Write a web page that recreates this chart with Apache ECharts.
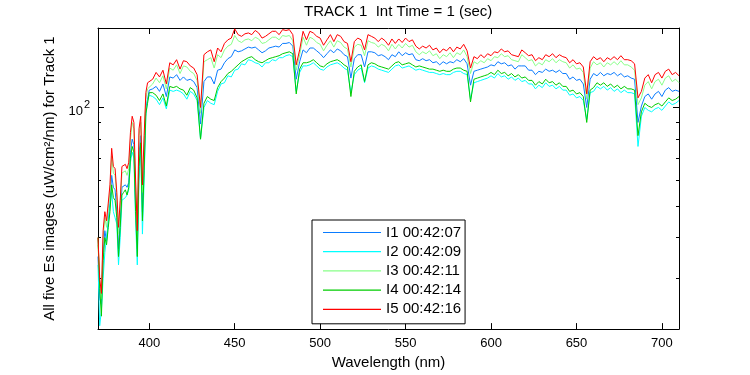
<!DOCTYPE html>
<html>
<head>
<meta charset="utf-8">
<script src="https://cdn.jsdelivr.net/npm/echarts@6/dist/echarts.min.js"></script>
<style>
  html, body { margin: 0; padding: 0; background: #fff; }
  #chart { width: 750px; height: 375px; }
</style>
</head>
<body>
<div id="chart"></div>
<script>
/* ===== data ===== */

const wavelengths = [
    370, 371, 372, 373, 374, 375, 376, 377, 378, 379,
    380, 381, 382, 383, 384, 385, 386, 387, 388, 389,
    390, 391, 392, 393, 394, 395, 396, 397, 398, 399,
    400, 402, 404, 406, 408, 410, 412, 414, 416, 418,
    420, 422, 424, 426, 428, 430, 432, 434, 436, 438,
    440, 442, 444, 446, 448, 450, 452, 454, 456, 458,
    460, 462, 464, 466, 468, 470, 472, 474, 476, 478,
    480, 482, 484, 486, 488, 490, 492, 494, 496, 498,
    500, 502, 504, 506, 508, 510, 512, 514, 516, 518,
    520, 522, 524, 526, 528, 530, 532, 534, 536, 538,
    540, 542, 544, 546, 548, 550, 552, 554, 556, 558,
    560, 562, 564, 566, 568, 570, 572, 574, 576, 578,
    580, 582, 584, 586, 588, 590, 592, 594, 596, 598,
    600, 602, 604, 606, 608, 610, 612, 614, 616, 618,
    620, 622, 624, 626, 628, 630, 632, 634, 636, 638,
    640, 642, 644, 646, 648, 650, 652, 654, 656, 658,
    660, 662, 664, 666, 668, 670, 672, 674, 676, 678,
    680, 682, 684, 686, 688, 690, 692, 694, 696, 698,
    700, 702, 704, 706, 708, 710
];

// I1 (blue)
const i1 = [
    35, 26, 25, 36, 42, 39, 45, 51, 62, 57,
    56, 48, 37, 45, 57, 57, 58, 57, 59, 73,
    80, 77, 51, 37, 72, 82, 48, 70, 100, 106,
    113, 114, 116, 112, 118, 108, 124, 123, 126, 121,
    124, 121, 122, 120, 115, 89, 120, 124, 124, 118,
    130, 131, 137, 141, 143, 150, 148, 149, 151, 153,
    152, 153, 150, 147, 149, 152, 153, 154, 153, 157,
    157, 158, 154, 122, 138, 150, 147, 152, 152, 149,
    146, 142, 146, 150, 147, 151, 149, 145, 143, 123,
    141, 145, 145, 133, 148, 148, 147, 144, 145, 143,
    140, 145, 143, 148, 144, 147, 145, 146, 140, 139,
    141, 139, 140, 137, 138, 135, 138, 136, 138, 137,
    140, 138, 141, 136, 117, 129, 130, 131, 132, 133,
    135, 134, 138, 136, 137, 134, 135, 131, 134, 134,
    134, 130, 130, 126, 129, 128, 131, 129, 130, 128,
    130, 127, 127, 122, 124, 121, 122, 118, 100, 122,
    127, 125, 128, 125, 127, 126, 128, 125, 127, 124,
    125, 123, 122, 90, 101, 108, 110, 106, 110, 112,
    108, 113, 115, 112, 113, 112
];

// I2 (cyan)
const i2 = [
    33, 21.5, 24, 30, 36, 40, 44, 50, 55, 48,
    46, 44, 33, 40, 52, 52, 53, 54, 56, 68,
    73, 70, 45, 33, 60, 77, 41, 60, 94, 105,
    109, 108, 106, 102, 107, 99, 113, 112, 113, 112,
    110, 106, 112, 110, 105, 80, 100, 105, 103, 102,
    112, 118, 119, 125, 124, 130, 131, 136, 135, 140,
    139, 137, 136, 133, 137, 137, 140, 139, 142, 142,
    144, 145, 143, 112, 128, 134, 134, 135, 137, 134,
    131, 130, 133, 135, 136, 137, 135, 132, 130, 111,
    126, 130, 132, 119, 132, 134, 133, 131, 130, 129,
    128, 131, 134, 135, 132, 133, 134, 132, 130, 131,
    130, 129, 128, 128, 127, 126, 127, 126, 126, 128,
    129, 129, 127, 126, 106, 119, 120, 121, 122, 123,
    125, 123, 127, 124, 125, 122, 124, 121, 123, 120,
    121, 118, 118, 114, 117, 115, 119, 116, 117, 114,
    116, 113, 113, 109, 110, 107, 108, 105, 92, 111,
    112, 116, 114, 116, 113, 115, 112, 114, 111, 113,
    111, 111, 110, 76, 94, 100, 98, 97, 99, 100,
    98, 101, 104, 102, 103, 105
];

// I3 (light green)
const i3 = [
    38, 29, 26, 40, 46, 43, 49, 55, 71, 63,
    62, 53, 41, 50, 63, 63, 64, 62, 65, 80,
    90, 86, 57, 40, 82, 90, 55, 78, 106, 114,
    115, 118, 123, 119, 125, 114, 132, 130, 135, 127,
    134, 133, 129, 127, 121, 96, 138, 140, 142, 132,
    145, 142, 150, 154, 156, 166, 160, 158, 161, 162,
    160, 164, 162, 157, 158, 161, 164, 164, 161, 166,
    165, 166, 160, 130, 145, 164, 155, 164, 162, 158,
    156, 149, 155, 160, 153, 160, 158, 153, 151, 133,
    153, 156, 155, 144, 160, 158, 157, 153, 156, 154,
    149, 156, 151, 156, 152, 157, 153, 155, 148, 145,
    148, 146, 149, 144, 146, 141, 145, 143, 147, 142,
    147, 145, 150, 143, 127, 138, 136, 139, 137, 141,
    139, 143, 142, 146, 143, 144, 140, 139, 138, 145,
    142, 139, 140, 134, 137, 135, 140, 138, 141, 137,
    140, 138, 137, 132, 135, 131, 132, 128, 106, 132,
    138, 135, 137, 133, 137, 135, 138, 135, 139, 135,
    135, 133, 130, 102, 107, 117, 120, 114, 120, 122,
    117, 123, 125, 120, 122, 119
];

// I4 (green)
const i4 = [
    40, 28, 23, 34, 40, 38, 43, 48, 58, 53,
    52, 46, 35, 43, 54, 55, 56, 54, 57, 70,
    76, 73, 48, 35, 66, 78, 45, 64, 96, 103,
    111, 111, 109, 105, 110, 101, 116, 115, 116, 114,
    113, 109, 115, 113, 107, 80, 103, 108, 106, 105,
    115, 120, 123, 127, 129, 132, 135, 138, 140, 142,
    143, 140, 138, 137, 139, 141, 142, 143, 144, 146,
    147, 148, 146, 110, 131, 137, 137, 138, 140, 137,
    134, 133, 136, 138, 139, 140, 138, 135, 133, 108,
    129, 133, 135, 120, 135, 137, 136, 134, 133, 132,
    131, 134, 137, 138, 135, 136, 137, 135, 133, 134,
    133, 132, 131, 131, 130, 129, 130, 129, 129, 131,
    132, 132, 130, 129, 104, 122, 123, 124, 125, 126,
    128, 126, 130, 127, 128, 125, 127, 124, 126, 123,
    124, 121, 121, 117, 120, 118, 122, 119, 120, 117,
    119, 116, 116, 112, 113, 110, 111, 108, 90, 113,
    115, 119, 117, 119, 116, 118, 115, 117, 114, 116,
    114, 114, 113, 82, 97, 103, 101, 100, 102, 103,
    101, 104, 107, 105, 106, 108
];

// I5 (red)
const i5 = [
    40, 30, 27, 42, 48, 45, 51, 58, 75, 66,
    65, 55, 43, 52, 66, 66, 67, 65, 68, 84,
    94, 90, 60, 42, 86, 94, 58, 82, 111, 119,
    119, 122, 128, 124, 130, 118, 137, 135, 140, 131,
    139, 138, 134, 132, 126, 100, 145, 148, 150, 138,
    152, 148, 157, 161, 163, 174, 167, 165, 168, 169,
    167, 172, 169, 163, 165, 168, 171, 171, 167, 173,
    172, 173, 167, 135, 150, 171, 161, 171, 169, 165,
    163, 155, 161, 167, 159, 167, 165, 159, 157, 138,
    159, 163, 161, 150, 167, 165, 163, 159, 163, 160,
    155, 162, 157, 162, 158, 163, 159, 161, 154, 151,
    154, 152, 155, 150, 152, 147, 151, 149, 153, 148,
    153, 151, 156, 149, 132, 143, 141, 145, 142, 146,
    144, 148, 147, 151, 148, 149, 145, 144, 143, 150,
    147, 144, 145, 139, 142, 140, 145, 143, 146, 142,
    145, 143, 142, 137, 140, 136, 137, 133, 110, 138,
    143, 140, 142, 138, 142, 140, 143, 140, 144, 140,
    140, 139, 136, 107, 112, 123, 126, 119, 126, 128,
    123, 129, 131, 126, 128, 125
];

const seriesNames = ["I1 00:42:07", "I2 00:42:09", "I3 00:42:11", "I4 00:42:14", "I5 00:42:16"];
const seriesValues = [i1, i2, i3, i4, i5];
const seriesColors = ["#0a7cff", "#00ffff", "#88ff88", "#00cc00", "#ff0000"];

const xTicks = [400, 450, 500, 550, 600, 650, 700];
const yMajorTicks = [100];
const yMinorTicks = [30, 40, 50, 60, 70, 80, 90];

/* ===== chart ===== */

const FONT = "Liberation Sans, Arial, Helvetica, sans-serif";
const chart = echarts.init(document.getElementById("chart"));

function xAxisCfg(position, withLabels) {
    return {
        type: "value",
        position: position,
        min: 370, max: 710,
        axisLine: { show: true, onZero: false, lineStyle: { color: "#000", width: 1 } },
        axisTick: { show: true, inside: true, length: 6, customValues: xTicks, lineStyle: { color: "#000" } },
        axisLabel: withLabels
            ? { show: true, customValues: xTicks, margin: 8, fontSize: 13, color: "#000", fontFamily: FONT }
            : { show: false },
        splitLine: { show: false },
        name: withLabels ? "Wavelength (nm)" : "",
        nameLocation: "middle",
        nameGap: 23,
        nameTextStyle: { fontSize: 15, color: "#000", fontFamily: FONT },
    };
}

function yAxisCfg(position, ticks, len, withLabels, showLine) {
    return {
        type: "log",
        logBase: 10,
        position: position,
        min: 21, max: 175,
        axisLine: { show: showLine, onZero: false, lineStyle: { color: "#000", width: 1 } },
        axisTick: { show: true, inside: true, length: len, customValues: ticks, lineStyle: { color: "#000" } },
        axisLabel: withLabels ? {
            show: true,
            customValues: yMajorTicks,
            margin: 8,
            color: "#000",
            fontFamily: FONT,
            formatter: () => "{b|10}{s|2}",
            rich: {
                b: { fontSize: 13, fontFamily: FONT, color: "#000", padding: [8, 0, 0, 0] },
                s: { fontSize: 11, fontFamily: FONT, color: "#000", padding: [0, 0, 6, 1] },
            },
        } : { show: false },
        splitLine: { show: false },
        name: withLabels ? "All five Es images (uW/cm\u00b2/nm) for Track 1" : "",
        nameLocation: "middle",
        nameGap: 37,
        nameTextStyle: { fontSize: 15, color: "#000", fontFamily: FONT },
    };
}

chart.setOption({
    animation: false,
    backgroundColor: "#fff",
    title: {
        text: "TRACK 1  Int Time = 1 (sec)",
        left: 304, top: 4, padding: 0,
        textStyle: { fontSize: 15, fontWeight: "normal", color: "#000", fontFamily: FONT },
    },
    grid: { left: 98, right: 71, top: 28, bottom: 43, containLabel: false },
    xAxis: [xAxisCfg("bottom", true), xAxisCfg("top", false)],
    yAxis: [
        yAxisCfg("left", yMajorTicks, 6, true, true),
        yAxisCfg("left", yMinorTicks, 3, false, false),
        yAxisCfg("right", yMajorTicks, 6, false, true),
        yAxisCfg("right", yMinorTicks, 3, false, false),
    ],
    legend: {
        orient: "vertical",
        left: 312, top: 220,
        padding: [5, 4, 7, 11],
        icon: "rect",
        itemWidth: 58, itemHeight: 1.2, itemGap: 4.2,
        borderColor: "#000", borderWidth: 1, borderRadius: 0,
        backgroundColor: "#fff",
        textStyle: { fontSize: 15, color: "#000", fontFamily: FONT },
        data: seriesNames,
    },
    series: seriesNames.map((name, k) => ({
        name: name,
        type: "line",
        xAxisIndex: 0,
        yAxisIndex: 0,
        symbol: "none",
        silent: true,
        lineStyle: { color: seriesColors[k], width: 1 },
        itemStyle: { color: seriesColors[k] },
        data: wavelengths.map((w, i) => [w, seriesValues[k][i]]),
    })),
});
</script>
</body>
</html>
